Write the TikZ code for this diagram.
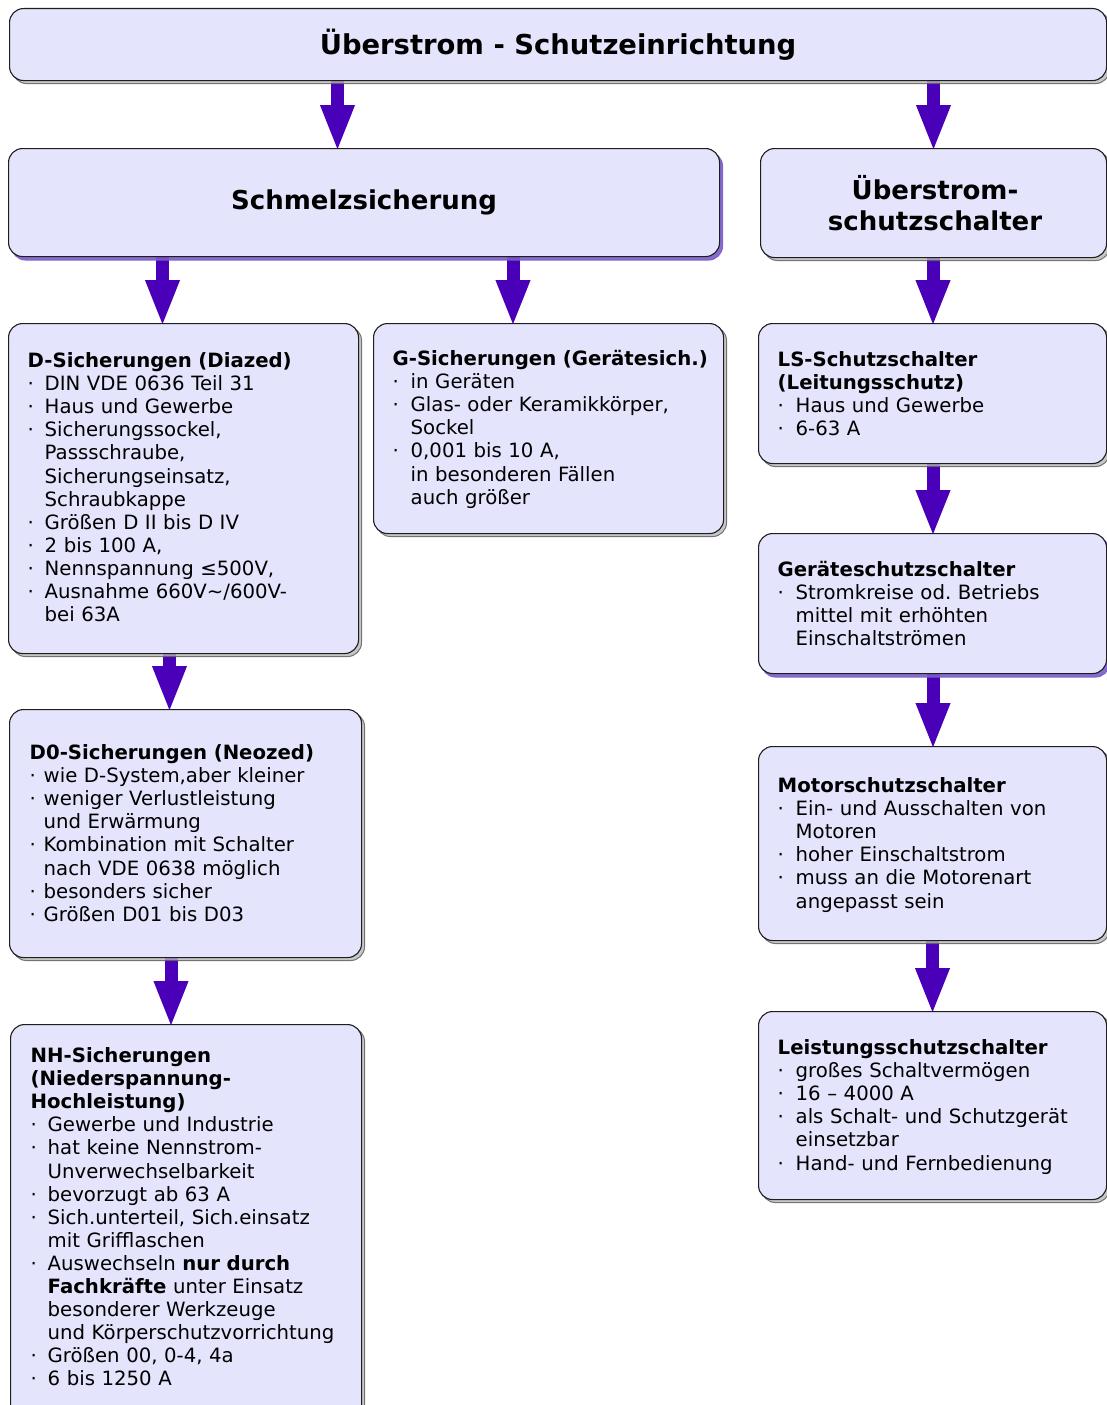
\documentclass[tikz,border=0pt]{standalone}
\usepackage{fontspec}
\setmainfont{DejaVu Sans}
\usetikzlibrary{arrows.meta,shadows}

\definecolor{boxfill}{RGB}{228,228,252}
\definecolor{arrowc}{RGB}{74,0,184}
\definecolor{shpurple}{RGB}{122,92,200}
\definecolor{boxline}{RGB}{30,30,30}

% bullet lists with a fixed hanging indent
\newlength{\bulletw}
\setlength{\bulletw}{17pt}
\newcommand{\bitem}{\makebox[\bulletw][l]{·}}
\newcommand{\bcont}{\hspace*{\bulletw}}
\frenchspacing

\pgfdeclarelayer{arrowlayer}
\pgfsetlayers{arrowlayer,main}

\begin{document}
\begin{tikzpicture}[x=1pt,y=-1pt,
  box/.style={draw=boxline, line width=1.1pt, rounded corners=14pt, fill=boxfill,
    anchor=north west, inner sep=0pt},
  gshadow/.style={drop shadow={shadow xshift=3pt, shadow yshift=-3pt,
    fill=black!28, draw=black!65, line width=1pt, opacity=0.8}},
  pshadow/.style={drop shadow={shadow xshift=3pt, shadow yshift=-3.5pt,
    fill=shpurple, draw=shpurple, line width=1pt, opacity=0.9}},
  headline/.style={font=\bfseries\fontsize{26}{31}\selectfont, align=center},
  txt/.style={anchor=base west, inner sep=0pt, align=left, text width=340pt,
    font=\fontsize{19.7}{23.1}\selectfont},
  ind/.style={execute at begin node={\setlength{\bulletw}{#1}}},
  arr/.style={line width=13pt, draw=arrowc, shorten >=-4pt,
    -{Triangle[length=47pt,width=31pt]}}
]
\useasboundingbox (0,0) rectangle (1107,1405);
\clip (0,0) rectangle (1107,1405);

% top level
\node[box, gshadow, minimum width=1097pt, minimum height=72pt,
  font=\bfseries\fontsize{27.4}{32}\selectfont] (title) at (9,8) {Überstrom - Schutzeinrichtung};

% second level
\node[box, pshadow, minimum width=711pt, minimum height=108pt, headline] (schmelz) at (8,148) {Schmelzsicherung};
\node[box, gshadow, minimum width=346pt, minimum height=109pt, headline] (ueber) at (760,148) {\hspace*{3pt}Überstrom-\\\hspace*{3pt}schutzschalter};

% fuse column boxes
\node[box, gshadow, minimum width=350pt, minimum height=330pt] (dsich) at (8,323) {};
\node[box, gshadow, minimum width=350pt, minimum height=210pt] (gsich) at (373,323) {};
\node[box, gshadow, minimum width=352pt, minimum height=248pt] (dnull) at (9,709) {};
\node[box, gshadow, minimum width=351pt, minimum height=420pt] (nh) at (10,1024) {};

% breaker column boxes
\node[box, gshadow, minimum width=348pt, minimum height=140pt] (ls) at (758,323) {};
\node[box, pshadow, minimum width=348pt, minimum height=140pt] (geraet) at (758,533) {};
\node[box, gshadow, minimum width=348pt, minimum height=194pt] (motor) at (758,746) {};
\node[box, gshadow, minimum width=348pt, minimum height=188pt] (leist) at (758,1011) {};

% box texts
\node[txt, ind=17pt] (dsich-t) at (27.5,367.5) {%
\textbf{D-Sicherungen (Diazed)}\\
\bitem DIN VDE 0636 Teil 31\\
\bitem Haus und Gewerbe\\
\bitem Sicherungssockel,\\
\bcont Passschraube,\\
\bcont Sicherungseinsatz,\\
\bcont Schraubkappe\\
\bitem Größen D II bis D IV\\
\bitem 2 bis 100 A,\\
\bitem Nennspannung ≤500V,\\
\bitem Ausnahme 660V\textasciitilde/600V-\\
\bcont bei 63A};

\node[txt, ind=18pt] (gsich-t) at (392.5,365.5) {%
\textbf{G-Sicherungen (Gerätesich.)}\\
\bitem in Geräten\\
\bitem Glas- oder Keramikkörper,\\
\bcont Sockel\\
\bitem 0,001 bis 10 A,\\
\bcont in besonderen Fällen\\
\bcont auch größer};

\node[txt, ind=14pt] (dnull-t) at (29.5,759.5) {%
\textbf{D0-Sicherungen (Neozed)}\\
\bitem wie D-System,aber kleiner\\
\bitem weniger Verlustleistung\\
\bcont und Erwärmung\\
\bitem Kombination mit Schalter\\
\bcont nach VDE 0638 möglich\\
\bitem besonders sicher\\
\bitem Größen D01 bis D03};

\node[txt, ind=17pt] (nh-t) at (30.5,1062.5) {%
\textbf{NH-Sicherungen}\\
\textbf{(Niederspannung-}\\
\textbf{Hochleistung)}\\
\bitem Gewerbe und Industrie\\
\bitem hat keine Nennstrom-\\
\bcont Unverwechselbarkeit\\
\bitem bevorzugt ab 63 A\\
\bitem Sich.unterteil, Sich.einsatz\\
\bcont mit Grifflaschen\\
\bitem Auswechseln \textbf{nur durch}\\
\bcont \textbf{Fachkräfte} unter Einsatz\\
\bcont besonderer Werkzeuge\\
\bcont und Körperschutzvorrichtung\\
\bitem Größen 00, 0-4, 4a\\
\bitem 6 bis 1250 A};

\node[txt, ind=18pt] (ls-t) at (777.5,366) {%
\textbf{LS-Schutzschalter}\\
\textbf{(Leitungsschutz)}\\
\bitem Haus und Gewerbe\\
\bitem 6-63 A};

\node[txt, ind=18pt] (geraet-t) at (777.5,576.5) {%
\textbf{Geräteschutzschalter}\\
\bitem Stromkreise od. Betriebs\\
\bcont mittel mit erhöhten\\
\bcont Einschaltströmen};

\node[txt, ind=18pt] (motor-t) at (777.5,792.5) {%
\textbf{Motorschutzschalter}\\
\bitem Ein- und Ausschalten von\\
\bcont Motoren\\
\bitem hoher Einschaltstrom\\
\bitem muss an die Motorenart\\
\bcont angepasst sein};

\node[txt, ind=18pt] (leist-t) at (777.5,1054.5) {%
\textbf{Leistungsschutzschalter}\\
\bitem großes Schaltvermögen\\
\bitem 16 – 4000 A\\
\bitem als Schalt- und Schutzgerät\\
\bcont einsetzbar\\
\bitem Hand- und Fernbedienung};

% connectors, drawn beneath the boxes and their shadows
\begin{pgfonlayer}{arrowlayer}
\draw[arr] (title.south -| 337.5,0) -- (schmelz.north -| 337.5,0);
\draw[arr] (title.south -| 933.5,0) -- (ueber.north -| 933.5,0);
\draw[arr] (schmelz.south -| 162.5,0) -- (dsich.north -| 162.5,0);
\draw[arr] (schmelz.south -| 513,0) -- (gsich.north -| 513,0);
\draw[arr] (dsich.south -| 169.5,0) -- (dnull.north -| 169.5,0);
\draw[arr] (dnull.south -| 171,0) -- (nh.north -| 171,0);
\draw[arr] (ueber.south -| 933,0) -- (ls.north -| 933,0);
\draw[arr] (ls.south -| 933,0) -- (geraet.north -| 933,0);
\draw[arr] (geraet.south -| 933,0) -- (motor.north -| 933,0);
\draw[arr] (motor.south -| 932.5,0) -- (leist.north -| 932.5,0);
\end{pgfonlayer}
\end{tikzpicture}
\end{document}
